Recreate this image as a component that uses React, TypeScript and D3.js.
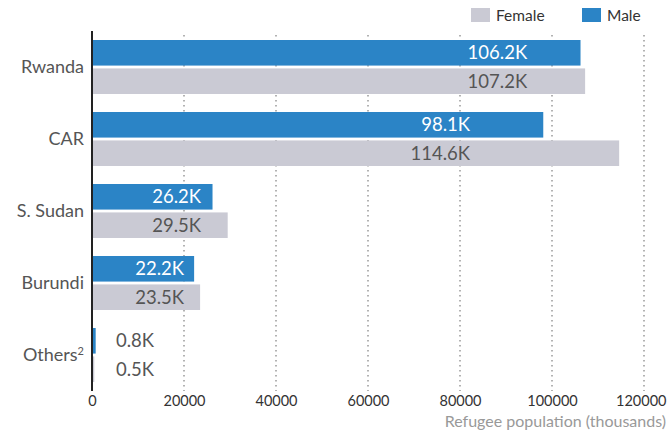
import { useEffect, useRef } from 'react';
import * as d3 from 'd3';

const COUNTRIES = ['Rwanda', 'CAR', 'S. Sudan', 'Burundi', 'Others'];
const MALE = [106200, 98100, 26200, 22200, 800];
const FEMALE = [107200, 114600, 29500, 23500, 500];
// where the pair of value labels ends, in data units
const LABEL_AT = [94600, 82200, 23700, 20000, 13500];
const TICKS = [0, 20000, 40000, 60000, 80000, 100000, 120000];
const SERIES = ['Male', 'Female'];
const LEGEND = ['Female', 'Male'];

const COLORS: Record<string, string> = { Male: '#2b84c6', Female: '#cacad4' };
const FONT = 'Lato, "Noto Sans", sans-serif';

const W = 668;
const H = 433;
const MARGIN = { top: 31, right: 24, bottom: 42, left: 92 };

export default function App() {
  const svgRef = useRef<SVGSVGElement>(null);

  useEffect(() => {
    const svg = d3.select(svgRef.current!);
    svg.selectAll('*').remove();

    const innerW = W - MARGIN.left - MARGIN.right;
    const innerH = H - MARGIN.top - MARGIN.bottom;

    const x = d3.scaleLinear().domain([0, 120000]).range([0, innerW]);
    const y = d3.scaleBand<string>().domain(COUNTRIES).range([0, innerH]).paddingInner(0.25).paddingOuter(0.125);
    const ySub = d3.scaleBand<string>().domain(SERIES).range([0, y.bandwidth()]).paddingInner(0.1);

    const g = svg.append('g').attr('transform', `translate(${MARGIN.left},${MARGIN.top})`);

    // dotted grid
    g.append('g')
      .selectAll('line')
      .data(TICKS.slice(1))
      .join('line')
      .attr('x1', (d) => x(d))
      .attr('x2', (d) => x(d))
      .attr('y1', 4)
      .attr('y2', innerH)
      .attr('stroke', '#999')
      .attr('stroke-width', 1.5)
      .attr('stroke-dasharray', '1.5,3.5');

    const rows = COUNTRIES.map((c, i) => ({ c, i, male: MALE[i], female: FEMALE[i] }));

    const groups = g
      .selectAll('g.row')
      .data(rows)
      .join('g')
      .attr('class', 'row')
      .attr('transform', (d) => `translate(0,${y(d.c)})`);

    SERIES.forEach((s) => {
      groups
        .append('rect')
        .attr('x', 0)
        .attr('y', ySub(s)!)
        .attr('width', (d) => x(s === 'Male' ? d.male : d.female))
        .attr('height', ySub.bandwidth())
        .attr('fill', COLORS[s]);

      groups
        .append('text')
        .attr('x', (d) => x(LABEL_AT[d.i]))
        .attr('y', ySub(s)! + ySub.bandwidth() / 2)
        .attr('dy', '0.36em')
        .attr('text-anchor', 'end')
        .attr('font-family', FONT)
        .attr('font-size', 18.5)
        .attr('fill', (d) => (s === 'Male' && d.c !== 'Others' ? '#fff' : '#555'))
        .text((d) => `${((s === 'Male' ? d.male : d.female) / 1000).toFixed(1)}K`);
    });

    // category labels
    const lab = g
      .selectAll('text.cat')
      .data(rows)
      .join('text')
      .attr('class', 'cat')
      .attr('x', -8)
      .attr('y', (d) => y(d.c)! + y.bandwidth() / 2)
      .attr('dy', '0.34em')
      .attr('text-anchor', 'end')
      .attr('font-family', FONT)
      .attr('font-size', 18)
      .attr('fill', '#555');
    lab.append('tspan').text((d) => d.c);
    lab
      .filter((d) => d.c === 'Others')
      .append('tspan')
      .attr('font-size', 11)
      .attr('dy', '-0.55em')
      .text('2');

    // axis line
    g.append('line')
      .attr('x1', 0)
      .attr('x2', 0)
      .attr('y1', 0)
      .attr('y2', innerH)
      .attr('stroke', '#222')
      .attr('stroke-width', 2);

    g.append('g')
      .attr('transform', `translate(0,${innerH})`)
      .call(d3.axisBottom(x).tickValues(TICKS).tickSize(0).tickPadding(5).tickFormat(d3.format('d')))
      .call((ax) => {
        ax.select('.domain').remove();
        ax.selectAll('.tick text').attr('fill', '#333').attr('font-size', 14.5).attr('font-family', FONT);
        // keep the last label inside the frame
        ax.selectAll<SVGTextElement, number>('.tick text')
          .filter((d) => d === TICKS[TICKS.length - 1])
          .attr('text-anchor', 'end')
          .attr('x', 22);
      });

    svg
      .append('text')
      .attr('x', W - 2)
      .attr('y', H - 6)
      .attr('text-anchor', 'end')
      .attr('font-family', FONT)
      .attr('font-size', 16)
      .attr('fill', '#999')
      .text('Refugee population (thousands)');

    // legend
    const legX = d3.scalePoint<string>().domain(LEGEND).range([471, 582]);
    const leg = svg
      .append('g')
      .selectAll('g')
      .data(LEGEND)
      .join('g')
      .attr('transform', (d) => `translate(${legX(d)},8)`);
    leg.append('rect').attr('width', 19).attr('height', 14).attr('fill', (d) => COLORS[d]);
    leg
      .append('text')
      .attr('x', 25)
      .attr('y', 7)
      .attr('dy', '0.36em')
      .attr('font-family', FONT)
      .attr('font-size', 15.5)
      .attr('fill', '#333')
      .text((d) => d);
  }, []);

  return (
    <svg
      ref={svgRef}
      width={W}
      height={H}
      style={{ position: 'absolute', left: 0, top: 0, background: '#fff' }}
    />
  );
}
